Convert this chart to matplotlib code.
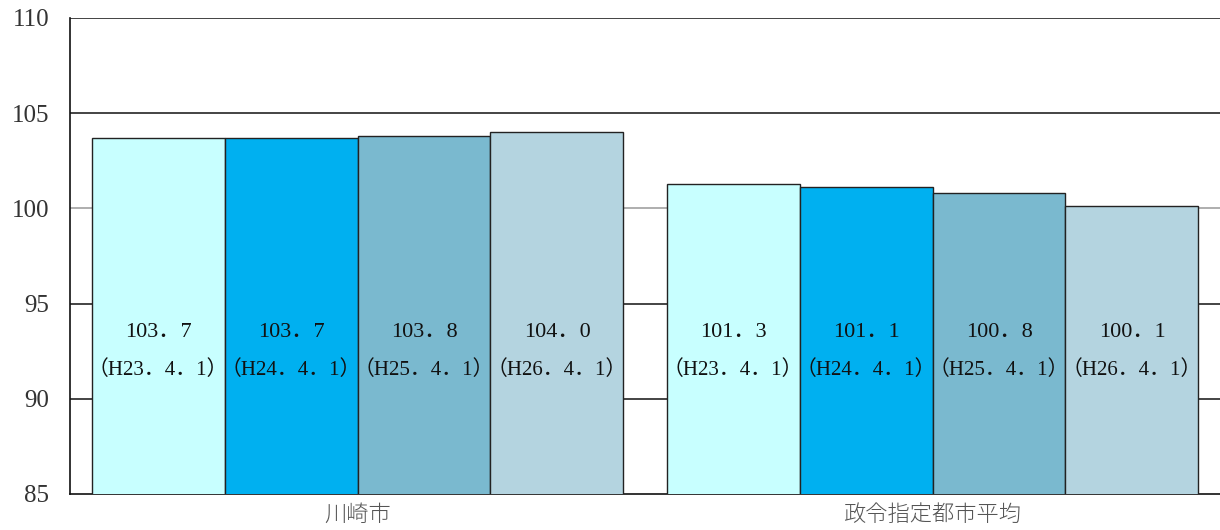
import matplotlib
matplotlib.use("Agg")
import matplotlib.pyplot as plt
import numpy as np

# Index values by city group and survey date
categories = ["川崎市", "政令指定都市平均"]
dates = ["H23", "H24", "H25", "H26"]
values = {
    "H23": [103.7, 101.3],
    "H24": [103.7, 101.1],
    "H25": [103.8, 100.8],
    "H26": [104.0, 100.1],
}
yticks = [85, 90, 95, 100, 105, 110]

colors = ["#C8FFFF", "#00B0F0", "#7AB9CF", "#B4D4E0"]

fig = plt.figure(figsize=(12.2, 5.3), dpi=100)
ax = fig.add_axes([70 / 1220, 1 - 494 / 530, 1150 / 1220, 476 / 530])

x = np.arange(len(categories))
width = 0.2313
offsets = (np.arange(len(dates)) - 1.5) * width

label_font = ["Liberation Serif", "Noto Sans CJK JP"]

for i, d in enumerate(dates):
    vals = values[d]
    ax.bar(x + offsets[i], vals, width=width, bottom=0, color=colors[i],
           edgecolor="#222222", linewidth=1.0, zorder=3)
    for xi, v in zip(x + offsets[i], vals):
        ax.text(xi, 93.5, f"{v:.1f}".replace(".", "．"), ha="center", va="center",
                fontsize=16, family=label_font, color="#111111", zorder=4)
        ax.text(xi, 91.5, f"（{d}．4．1）", ha="center", va="center",
                fontsize=15, family=label_font, color="#111111", zorder=4)

ax.set_xlim(-0.5, 1.5)
ax.set_ylim(85, 110)
ax.set_yticks(yticks)
ax.set_yticklabels([str(t) for t in yticks], family="Liberation Serif",
                   fontsize=18, color="#333333")
ax.tick_params(axis="y", length=0, pad=15)

ax.set_xticks(x)
ax.set_xticklabels(categories, family="Noto Sans CJK JP", fontsize=16,
                   color="#555555", fontweight="light")
ax.tick_params(axis="x", length=0, pad=7)

# Horizontal gridlines
for t in yticks[1:]:
    ax.axhline(t, color="#999999" if t == 100 else "#111111", linewidth=1.1,
               zorder=1)

for side in ["top", "right"]:
    ax.spines[side].set_visible(False)
ax.spines["left"].set_color("#111111")
ax.spines["left"].set_linewidth(1.2)
ax.spines["bottom"].set_color("#111111")
ax.spines["bottom"].set_linewidth(1.2)

fig.savefig("out.png", dpi=100)
